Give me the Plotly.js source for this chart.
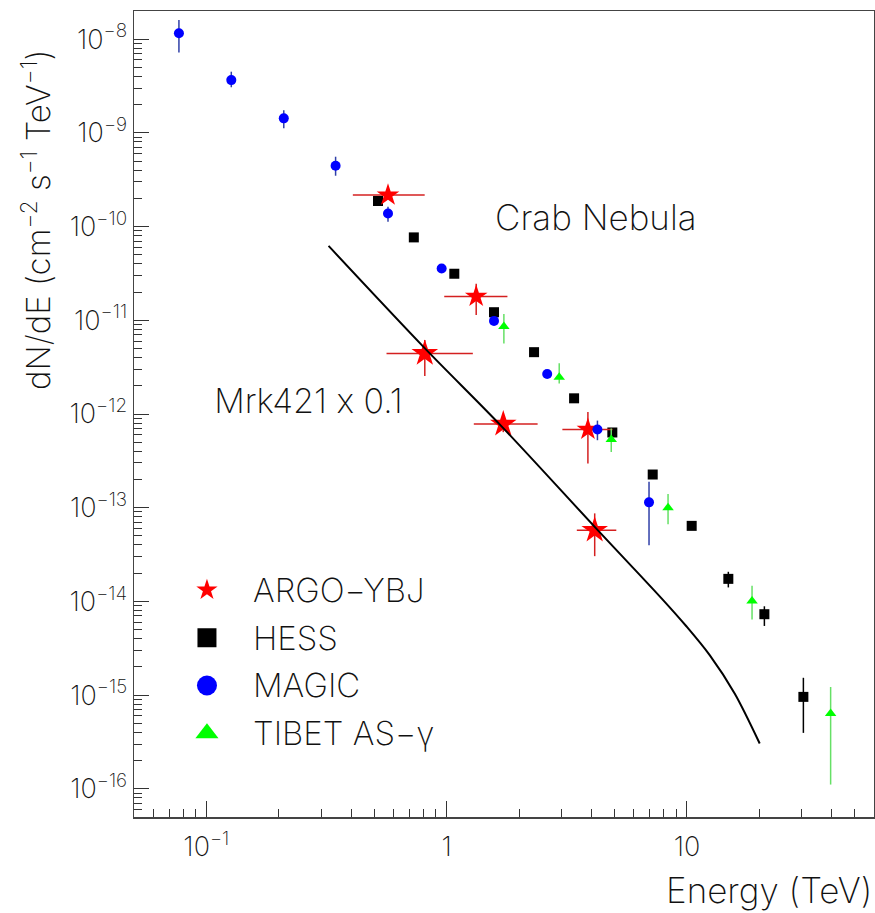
<!DOCTYPE html>
<html>
<head>
<meta charset="utf-8">
<script src="https://cdn.plot.ly/plotly-3.0.1.min.js"></script>
<style>
  html, body { margin: 0; padding: 0; background: #ffffff; }
  #chart { width: 875px; height: 913px; }
  /* keep a literal "x" between numbers (no contextual multiplication sign) */
  #chart text, #chart tspan { font-feature-settings: "calt" 0; font-variant-ligatures: no-contextual; }
</style>
</head>
<body>
<div id="chart"></div>
<script>
// ---- Crab Nebula spectra (E in TeV, dN/dE in cm^-2 s^-1 TeV^-1) ----
const magicE  = [0.0769, 0.127, 0.210, 0.345, 0.570, 0.953, 1.574, 2.62, 4.24, 6.95];
const magicF  = [1.156e-8, 3.66e-9, 1.43e-9, 4.47e-10, 1.38e-10, 3.57e-11, 9.86e-12, 2.67e-12, 6.84e-13, 1.14e-13];
const magicHi = [1.6e-8, 4.5e-9, 1.75e-9, 5.57e-10, 1.63e-10, 3.8e-11, 1.04e-11, 2.8e-12, 8.5e-13, 1.89e-13];
const magicLo = [7.2e-9, 3.07e-9, 1.12e-9, 3.49e-10, 1.13e-10, 3.35e-11, 9.3e-12, 2.55e-12, 5.25e-13, 3.98e-14];

const hessE  = [0.518, 0.730, 1.076, 1.574, 2.31, 3.39, 4.89, 7.2, 10.46, 14.86, 20.99, 30.5];
const hessF  = [1.875e-10, 7.67e-11, 3.14e-11, 1.22e-11, 4.57e-12, 1.47e-12, 6.35e-13, 2.26e-13, 6.4e-14, 1.74e-14, 7.3e-15, 9.57e-16];
const hessHi = [1.93e-10, 7.9e-11, 3.23e-11, 1.26e-11, 4.71e-12, 1.52e-12, 6.9e-13, 2.36e-13, 6.7e-14, 2.07e-14, 8.87e-15, 1.53e-15];
const hessLo = [1.82e-10, 7.44e-11, 3.05e-11, 1.18e-11, 4.43e-12, 1.42e-12, 5.8e-13, 2.16e-13, 6.1e-14, 1.41e-14, 5.47e-15, 3.95e-16];

const tibetE  = [1.73, 2.94, 4.84, 8.34, 18.65, 39.6];
const tibetF  = [8.57e-12, 2.46e-12, 5.36e-13, 1.0e-13, 1.01e-14, 6.35e-16];
const tibetHi = [1.17e-11, 3.47e-12, 7.02e-13, 1.40e-13, 1.47e-14, 1.22e-15];
const tibetLo = [5.66e-12, 2.12e-12, 3.94e-13, 6.67e-14, 6.41e-15, 1.11e-16];

const argoCrabE   = [0.570, 1.327, 3.87];
const argoCrabELo = [0.407, 0.977, 3.03];
const argoCrabEHi = [0.810, 1.79, 4.9];
const argoCrabF   = [2.17e-10, 1.80e-11, 6.84e-13];
const argoCrabFHi = [2.4e-10, 2.45e-11, 1.05e-12];
const argoCrabFLo = [1.95e-10, 1.14e-11, 2.96e-13];

// ---- Mrk421 (scaled by 0.1) ----
const argoMrkE   = [0.811, 1.72, 4.13];
const argoMrkELo = [0.562, 1.297, 3.48];
const argoMrkEHi = [1.285, 2.39, 5.08];
const argoMrkF   = [4.43e-12, 7.8e-13, 5.75e-14];
const argoMrkFHi = [6.15e-12, 9.5e-13, 8.7e-14];
const argoMrkFLo = [2.54e-12, 6.4e-13, 3.04e-14];

const mrkCurveE = [0.3225, 0.810, 1.689, 4.13, 7.94, 9.94, 12.43, 15.79, 20.07];
const mrkCurveF = [6.22e-11, 5.05e-12, 7.43e-13, 6.25e-14, 1.04e-14, 5.43e-15, 2.67e-15, 1.04e-15, 3.04e-16];

// ---- axis labels ----
const xTickVals = [0.1, 1, 10];
const xTickText = ['10<sup>\u22121</sup>', '1', '10'];
const yExponents = [-16, -15, -14, -13, -12, -11, -10, -9, -8];

const legendNames = ['ARGO\u2212YBJ', 'HESS', 'MAGIC', 'TIBET AS\u2212\u03B3'];

// ---- helpers ----
const plus  = (hi, v) => hi.map((h, i) => h - v[i]);
const minus = (lo, v) => lo.map((l, i) => v[i] - l);

const FONT = 'Inter, DejaVu Sans, sans-serif';
const W = 200;
const TXT = '#111111';
const fnt = size => ({ family: FONT, size: size, color: TXT, weight: W });

const yTickVals = yExponents.map(e => Math.pow(10, e));
const yTickText = yExponents.map(e => '10<sup>\u2212' + Math.abs(e) + '</sup>');
function minorVals(lo, hi) {
  const out = [];
  for (let d = lo; d <= hi; d++) {
    for (let m = 2; m <= 9; m++) out.push(m * Math.pow(10, d));
  }
  return out;
}

function errBars(hi, lo, v, color) {
  return { type: 'data', symmetric: false, array: plus(hi, v), arrayminus: minus(lo, v),
           color: color, thickness: 1.5, width: 0 };
}

const traces = [
  { x: hessE, y: hessF, mode: 'markers', type: 'scatter', name: 'HESS',
    marker: { symbol: 'square', size: 10, color: '#000000' },
    error_y: errBars(hessHi, hessLo, hessF, '#000000') },
  { x: argoCrabE, y: argoCrabF, mode: 'markers', type: 'scatter', name: 'ARGO-YBJ Crab',
    marker: { symbol: 'star', size: 17, color: '#ff0000' },
    error_y: errBars(argoCrabFHi, argoCrabFLo, argoCrabF, '#d42020'),
    error_x: errBars(argoCrabEHi, argoCrabELo, argoCrabE, '#d42020') },
  { x: argoMrkE, y: argoMrkF, mode: 'markers', type: 'scatter', name: 'ARGO-YBJ Mrk421',
    marker: { symbol: 'star', size: 20, color: '#ff0000' },
    error_y: errBars(argoMrkFHi, argoMrkFLo, argoMrkF, '#d42020'),
    error_x: errBars(argoMrkEHi, argoMrkELo, argoMrkE, '#d42020') },
  { x: mrkCurveE, y: mrkCurveF, mode: 'lines', type: 'scatter', name: 'Mrk421 x 0.1',
    line: { color: '#000000', width: 2, shape: 'spline', smoothing: 0.9 } },
  { x: magicE, y: magicF, mode: 'markers', type: 'scatter', name: 'MAGIC',
    marker: { symbol: 'circle', size: 10, color: '#0000ff' },
    error_y: errBars(magicHi, magicLo, magicF, '#3040a8') },
  { x: tibetE, y: tibetF, mode: 'markers', type: 'scatter', name: 'TIBET AS-gamma',
    marker: { symbol: 'triangle-up', size: 10, color: '#00ff00' },
    error_y: errBars(tibetHi, tibetLo, tibetF, '#66e066') }
];

// legend keys on an invisible unit overlay
const keySymbols = ['star', 'square', 'circle', 'triangle-up'];
const keyColors  = ['#ff0000', '#000000', '#0000ff', '#00ff00'];
const keySizes   = [16, 19, 20, 20];
const keyX = 0.0986, keyY0 = 0.2816, keyStep = 0.0592;
legendNames.forEach((n, i) => {
  traces.push({ x: [keyX], y: [keyY0 - i * keyStep], xaxis: 'x2', yaxis: 'y2',
    mode: 'markers', type: 'scatter', hoverinfo: 'skip', name: n,
    marker: { symbol: keySymbols[i], size: keySizes[i], color: keyColors[i] } });
});

const annotations = legendNames.map((n, i) => ({
  text: n, xref: 'paper', yref: 'paper', x: 0.158, y: keyY0 - i * keyStep,
  xanchor: 'left', yanchor: 'middle', showarrow: false, font: fnt(33)
}));
annotations.push(
  { text: 'Crab Nebula', xref: 'paper', yref: 'paper', x: 0.485, y: 0.745,
    xanchor: 'left', yanchor: 'middle', showarrow: false, font: fnt(35) },
  { text: 'Mrk421 x 0.1', xref: 'paper', yref: 'paper', x: 0.103, y: 0.517,
    xanchor: 'left', yanchor: 'middle', showarrow: false, font: fnt(34) },
  { text: 'Energy (TeV)', xref: 'paper', yref: 'paper', x: 1.0, y: -0.09,
    xanchor: 'right', yanchor: 'middle', showarrow: false, font: fnt(35) },
  { text: 'dN/dE (cm<sup>\u22122</sup> s<sup>\u22121</sup> TeV<sup>\u22121</sup>)',
    xref: 'paper', yref: 'paper', x: -0.132, y: 0.741, textangle: -90,
    xanchor: 'center', yanchor: 'middle', showarrow: false, font: fnt(33) }
);

const axisCommon = {
  type: 'log', showgrid: false, zeroline: false,
  showline: true, mirror: true, linecolor: '#444444', linewidth: 1.5,
  ticks: 'inside', tickcolor: '#333333', tickwidth: 1,
  tickfont: fnt(27)
};

const layout = {
  width: 875, height: 913,
  margin: { l: 134, r: 1, t: 11, b: 96 },
  paper_bgcolor: '#ffffff', plot_bgcolor: '#ffffff',
  showlegend: false,
  xaxis: Object.assign({}, axisCommon, {
    range: [Math.log10(0.05), Math.log10(60)],
    tickmode: 'array', tickvals: xTickVals, ticktext: xTickText, ticklen: 16,
    ticklabelstandoff: 5,
    minor: { tickmode: 'array', tickvals: minorVals(-2, 1).filter(v => v > 0.05 && v < 60),
             ticks: 'inside', ticklen: 8, tickcolor: '#333333', tickwidth: 1, showgrid: false }
  }),
  yaxis: Object.assign({}, axisCommon, {
    range: [Math.log10(5e-17), Math.log10(2e-8)],
    tickmode: 'array', tickvals: yTickVals, ticktext: yTickText, ticklen: 15,
    minor: { tickmode: 'array', tickvals: minorVals(-17, -9).filter(v => v > 5e-17 && v < 2e-8),
             ticks: 'inside', ticklen: 8, tickcolor: '#333333', tickwidth: 1, showgrid: false }
  }),
  xaxis2: { overlaying: 'x', anchor: 'y2', range: [0, 1], visible: false, fixedrange: true },
  yaxis2: { overlaying: 'y', anchor: 'x2', range: [0, 1], visible: false, fixedrange: true },
  annotations: annotations
};

Plotly.newPlot('chart', traces, layout, { staticPlot: true, displayModeBar: false });
</script>
</body>
</html>
